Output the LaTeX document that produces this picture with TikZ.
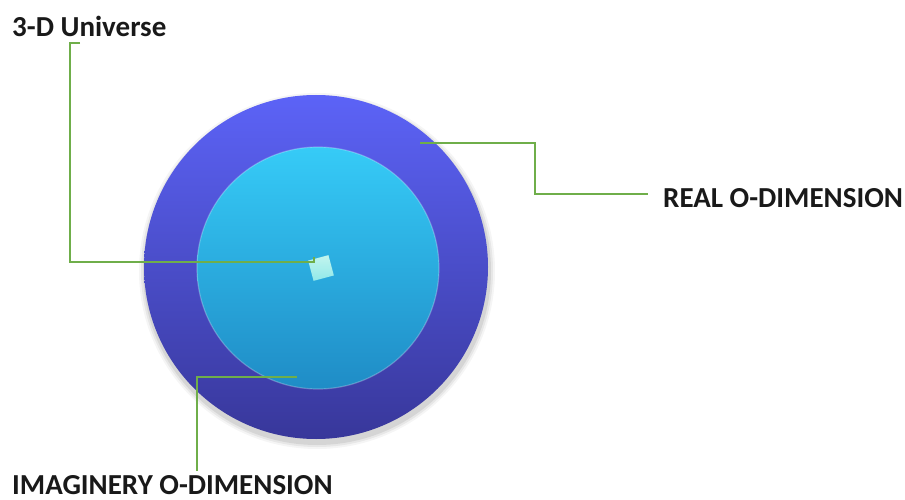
\documentclass[tikz,border=0pt]{standalone}
\usepackage{fontspec}
\setmainfont{Carlito}
\definecolor{linegreen}{HTML}{6FAE4A}
\definecolor{outertop}{HTML}{5C63F7}
\definecolor{outerbot}{HTML}{38379A}
\definecolor{innertop}{HTML}{36CBF7}
\definecolor{innerbot}{HTML}{1F8CC6}
\definecolor{cubecol}{HTML}{A8F0E6}
\tikzset{
  lbl/.style={anchor=base west, inner sep=0pt, font=\fontsize{29}{31}\selectfont\bfseries, text=black!90},
  leader/.style={draw=linegreen, line width=2.2pt}
}
\begin{document}
\begin{tikzpicture}[x=1pt,y=-1pt]
\useasboundingbox (0,0) rectangle (905,500);
% soft shadow
\foreach \r/\o in {178/0.04,176/0.06,174/0.08}{
  \fill[black,opacity=\o] (317,271) circle (\r);
}
% outer sphere
\shade[top color=outertop, bottom color=outerbot] (316,267) circle (172);
% inner sphere
\shade[top color=innertop, bottom color=innerbot] (318,268) circle (121);
\draw[white,opacity=0.25,line width=1.2pt] (318,268) circle (121);
% cube
\node[draw=none, top color=cubecol!70!white, bottom color=cubecol!80!innertop, minimum size=21pt, inner sep=0pt, rotate=15] (cube) at (321,268) {};
% labels
\node[lbl] (univ) at (12,37) {3-D Universe};
\node[lbl] (real) at (663,207) {REAL O-DIMENSION};
\node[lbl] (imag) at (12,494) {IMAGINERY O-DIMENSION};
% leader points
\coordinate (u0) at (80,43);
\coordinate (u1) at (70,43);
\coordinate (u2) at (70,262);
\coordinate (u3) at (314,262);
\coordinate (u4) at (314,257);
\coordinate (r0) at (420,143);
\coordinate (r1) at (535,143);
\coordinate (r2) at (535,194);
\coordinate (r3) at (648,194);
\coordinate (i0) at (297,377);
\coordinate (i1) at (197,377);
\coordinate (i2) at (197,471);
\draw[leader] (u0) -- (u1) -- (u2) -- (u3) -- (u4);
\draw[leader] (r0) -- (r1) -- (r2) -- (r3);
\draw[leader] (i0) -- (i1) -- (i2);
\end{tikzpicture}
\end{document}
